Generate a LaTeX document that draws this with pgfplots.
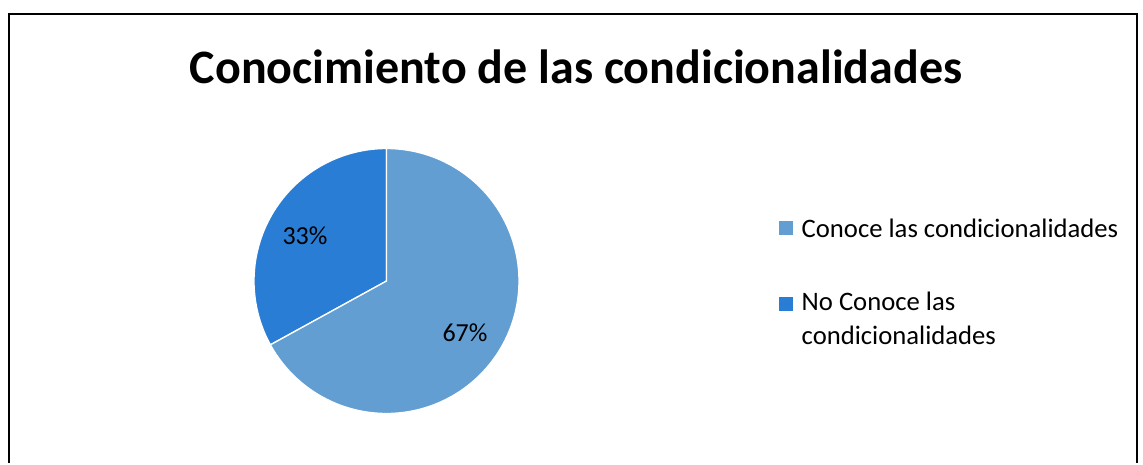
\documentclass[border=0pt]{standalone}
\usepackage{fontspec}
\setmainfont{Carlito}
\usepackage{pgfplots}
\pgfplotsset{compat=1.18}
\definecolor{cLight}{RGB}{98,158,210}
\definecolor{cDark}{RGB}{42,125,212}
% data (percent)
\def\vConoce{67}
\def\vNoConoce{33}
\def\cx{386.5}
\def\cy{281}
\def\rr{132.5}
\begin{document}
\begin{tikzpicture}
\begin{axis}[scale only axis, width=857.25pt, height=347.25pt,
  xmin=0, xmax=1143, ymin=0, ymax=463, y dir=reverse,
  axis lines=none, clip=false]
\path (axis cs:0,0) rectangle (axis cs:1143,463);
% frame
\draw[line width=1.8pt, black] (axis cs:9,463) -- (axis cs:9,14) -- (axis cs:1137,14) -- (axis cs:1137,463);
% title
\node[font=\fontsize{36}{40}\selectfont\bfseries] at (axis cs:576,67) {Conocimiento de las condicionalidades};
% slices
\addplot[fill=cDark, draw=white, line width=1pt, domain=90:{90+3.6*\vNoConoce}, samples=80, variable=\t]
  ({\cx+\rr*cos(\t)}, {\cy-\rr*sin(\t)}) -- (axis cs:\cx,\cy) -- cycle;
\addplot[fill=cLight, draw=white, line width=1pt, domain={90+3.6*\vNoConoce}:450, samples=150, variable=\t]
  ({\cx+\rr*cos(\t)}, {\cy-\rr*sin(\t)}) -- (axis cs:\cx,\cy) -- cycle;
% data labels
\node[font=\fontsize{19.5}{22}\selectfont] at (axis cs:305,236) {\vNoConoce\%};
\node[font=\fontsize{19.5}{22}\selectfont] at (axis cs:465,333) {\vConoce\%};
% legend
\fill[cLight] (axis cs:779,221) rectangle (axis cs:793,235);
\node[anchor=west, font=\fontsize{20}{25.5}\selectfont] at (axis cs:797,228) {Conoce las condicionalidades};
\fill[cDark] (axis cs:779,297) rectangle (axis cs:793,311);
\node[anchor=north west, align=left, font=\fontsize{20}{25.5}\selectfont, inner ysep=0pt] at (axis cs:797,292) {No Conoce las\\condicionalidades};
\end{axis}
\end{tikzpicture}
\end{document}
